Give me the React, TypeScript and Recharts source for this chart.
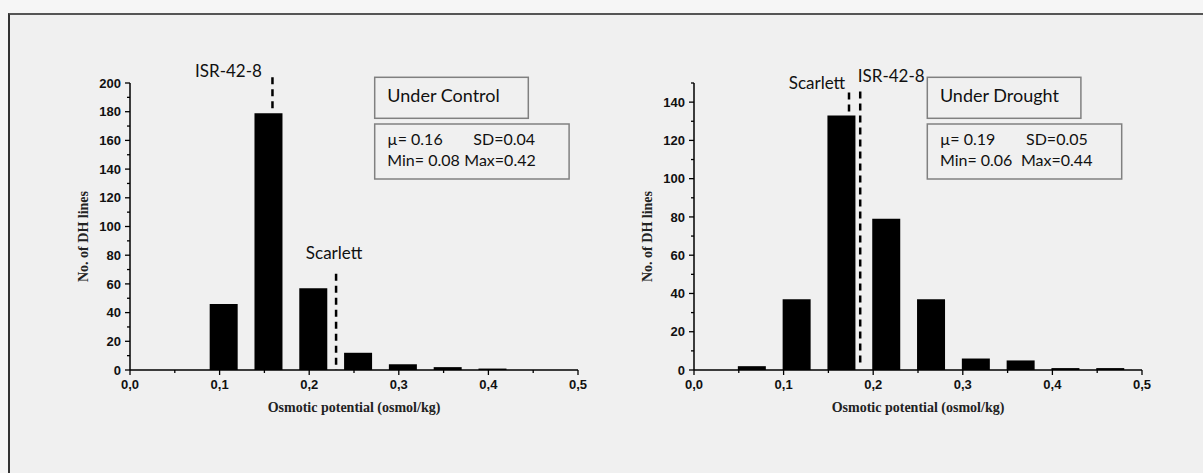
import React from 'react';
import { BarChart, Bar, XAxis, YAxis, ReferenceLine } from 'recharts';

// Histogram bin centres (osmol/kg) and number of DH lines in each bin
const controlBins = [0.105, 0.155, 0.205, 0.255, 0.305, 0.355, 0.405];
const controlCounts = [46, 179, 57, 12, 4, 2, 1];
const droughtBins = [0.065, 0.115, 0.165, 0.215, 0.265, 0.315, 0.365, 0.415, 0.465];
const droughtCounts = [2, 37, 133, 79, 37, 6, 5, 1, 1];

// Axis ticks (minor ticks every half step)
const xTicks = [0, 0.05, 0.1, 0.15, 0.2, 0.25, 0.3, 0.35, 0.4, 0.45, 0.5];
const xMajorTicks = [0, 0.1, 0.2, 0.3, 0.4, 0.5];
const xTickLabels = ['0,0', '0,1', '0,2', '0,3', '0,4', '0,5'];
const controlYTicks = [0, 10, 20, 30, 40, 50, 60, 70, 80, 90, 100, 110, 120, 130, 140, 150, 160, 170, 180, 190, 200];
const droughtYTicks = [0, 10, 20, 30, 40, 50, 60, 70, 80, 90, 100, 110, 120, 130, 140, 150];

// Parent genotypes: position on x and vertical extent of the dashed marker
const controlMarkers = [
  { name: 'ISR-42-8', x: 0.159, yTop: 204, yBottom: 179, dx: -44, dy: 0 },
  { name: 'Scarlett', x: 0.23, yTop: 67, yBottom: 0, dx: -2, dy: -15 },
];
const droughtMarkers = [
  { name: 'Scarlett', x: 0.173, yTop: 145, yBottom: 133, dx: -32, dy: -4 },
  { name: 'ISR-42-8', x: 0.1855, yTop: 145.5, yBottom: 3.7, dx: 31, dy: -10 },
];

const controlStats = { title: 'Under Control', mean: '0.16', sd: '0.04', min: '0.08', max: '0.42' };
const droughtStats = { title: 'Under Drought', mean: '0.19', sd: '0.05', min: '0.06', max: '0.44' };

const TICK_FONT = "'Liberation Sans', Arial, sans-serif";
const TITLE_FONT = "'Liberation Serif', 'Times New Roman', serif";
const NOTE_FONT = "Lato, 'Open Sans', sans-serif";

const XTick = (props: any) => {
  const { x, y, payload } = props;
  const v = payload.value as number;
  const idx = xMajorTicks.findIndex((t) => Math.abs(t - v) < 1e-6);
  const major = idx >= 0;
  return (
    <g>
      <line x1={x} x2={x} y1={y} y2={y + (major ? 5 : 3)} stroke="#000" strokeWidth={1.3} />
      {major && (
        <text x={x} y={y + 19} textAnchor="middle" fontFamily={TICK_FONT} fontWeight="bold" fontSize={13} fill="#111">
          {xTickLabels[idx]}
        </text>
      )}
    </g>
  );
};

const YTick = (props: any) => {
  const { x, y, payload } = props;
  const v = payload.value as number;
  const major = v % 20 === 0;
  return (
    <g>
      <line x1={x} x2={x - (major ? 5 : 3)} y1={y} y2={y} stroke="#000" strokeWidth={1.3} />
      {major && (
        <text x={x - 9} y={y} dy="0.36em" textAnchor="end" fontFamily={TICK_FONT} fontWeight="bold" fontSize={13} fill="#111">
          {v}
        </text>
      )}
    </g>
  );
};

const xTitle = ({ viewBox }: any) => (
  <text
    x={viewBox.x + viewBox.width / 2}
    y={viewBox.y + 42}
    textAnchor="middle"
    fontFamily={TITLE_FONT}
    fontWeight="bold"
    fontSize={14}
    fill="#222"
  >
    Osmotic potential (osmol/kg)
  </text>
);

const yTitle = ({ viewBox }: any) => {
  const cx = viewBox.x + viewBox.width - 47;
  const cy = viewBox.y + viewBox.height / 2 + 10;
  return (
    <text
      x={cx}
      y={cy}
      transform={`rotate(-90 ${cx} ${cy})`}
      textAnchor="middle"
      dominantBaseline="central"
      fontFamily={TITLE_FONT}
      fontWeight="bold"
      fontSize={14}
      fill="#222"
    >
      No. of DH lines
    </text>
  );
};

type Marker = { name: string; x: number; yTop: number; yBottom: number; dx: number; dy: number };

const markerLabel = (m: Marker) => ({ viewBox }: any) => (
  <text
    x={viewBox.x + m.dx}
    y={viewBox.y + m.dy}
    textAnchor="middle"
    fontFamily={NOTE_FONT}
    fontSize={17}
    fill="#111"
  >
    {m.name}
  </text>
);

type PanelProps = {
  bins: number[];
  counts: number[];
  yTicks: number[];
  yMax: number;
  markers: Marker[];
  width: number;
  margin: { top: number; right: number; bottom: number; left: number };
};

const Panel = ({ bins, counts, yTicks, yMax, markers, width, margin }: PanelProps) => {
  const data = bins.map((x, i) => ({ x, count: counts[i] }));
  return (
    <BarChart width={width} height={420} data={data} margin={margin}>
      <XAxis
        type="number"
        dataKey="x"
        domain={[0, 0.5]}
        ticks={xTicks}
        interval={0}
        allowDataOverflow
        tickSize={0}
        tickMargin={0}
        tickLine={false}
        tick={(p: any) => <XTick {...p} />}
        axisLine={{ stroke: '#000', strokeWidth: 1.5 }}
        height={40}
        label={{ content: xTitle }}
      />
      <YAxis
        type="number"
        domain={[0, yMax]}
        ticks={yTicks}
        interval={0}
        allowDataOverflow
        tickSize={0}
        tickMargin={0}
        tickLine={false}
        tick={(p: any) => <YTick {...p} />}
        axisLine={{ stroke: '#000', strokeWidth: 1.5 }}
        width={60}
        label={{ content: yTitle }}
      />
      <Bar dataKey="count" fill="#000" barSize={28} isAnimationActive={false} />
      {markers.map((m) => (
        <ReferenceLine
          key={m.name}
          segment={[
            { x: m.x, y: m.yTop },
            { x: m.x, y: m.yBottom },
          ]}
          stroke="#000"
          strokeWidth={2.5}
          strokeDasharray="7 5"
          ifOverflow="visible"
          label={{ content: markerLabel(m) }}
        />
      ))}
    </BarChart>
  );
};

type Stats = { title: string; mean: string; sd: string; min: string; max: string };

// Title box and summary-statistics box drawn over a panel
const StatsBoxes = ({ s, x, sdX, maxX }: { s: Stats; x: number; sdX: number; maxX: number }) => (
  <g fontFamily={NOTE_FONT} fill="#111">
    <rect x={x} y={62.3} width={153.6} height={41} fill="none" stroke="#808080" strokeWidth={1.5} />
    <text x={x + 12.6} y={86.7} fontSize={18}>{s.title}</text>
    <rect x={x} y={109} width={194.4} height={55} fill="none" stroke="#808080" strokeWidth={1.5} />
    <text x={x + 12.6} y={130} fontSize={16}>{`\u00b5= ${s.mean}`}</text>
    <text x={x + sdX} y={130} fontSize={16}>{`SD=${s.sd}`}</text>
    <text x={x + 12.6} y={151} fontSize={16}>{`Min= ${s.min}`}</text>
    <text x={x + maxX} y={151} fontSize={16}>{`Max=${s.max}`}</text>
  </g>
);

export default function App() {
  return (
    <div style={{ position: 'relative', width: 1203, height: 473, overflow: 'hidden', background: '#f6f6f6' }}>
      <style>{'body{margin:0;}'}</style>
      <div
        style={{
          position: 'absolute',
          left: 8,
          top: 13,
          width: 1195,
          height: 460,
          boxSizing: 'border-box',
          borderTop: '2px solid #555',
          borderLeft: '2px solid #333',
          background: '#f0f0f0',
        }}
      >
        <div style={{ position: 'absolute', left: 0, top: 0 }}>
          <Panel
            bins={controlBins}
            counts={controlCounts}
            yTicks={controlYTicks}
            yMax={200}
            markers={controlMarkers}
            width={590}
            margin={{ top: 68, right: 22, bottom: 25, left: 60 }}
          />
        </div>
        <div style={{ position: 'absolute', left: 590, top: 0 }}>
          <Panel
            bins={droughtBins}
            counts={droughtCounts}
            yTicks={droughtYTicks}
            yMax={150}
            markers={droughtMarkers}
            width={560}
            margin={{ top: 68, right: 18, bottom: 25, left: 34 }}
          />
        </div>
        <svg
          width={1193}
          height={458}
          style={{ position: 'absolute', left: 0, top: 0, pointerEvents: 'none' }}
        >
          <StatsBoxes s={controlStats} x={364.7} sdX={98.6} maxX={89.6} />
          <StatsBoxes s={droughtStats} x={917.3} sdX={98.7} maxX={93.7} />
        </svg>
      </div>
    </div>
  );
}
